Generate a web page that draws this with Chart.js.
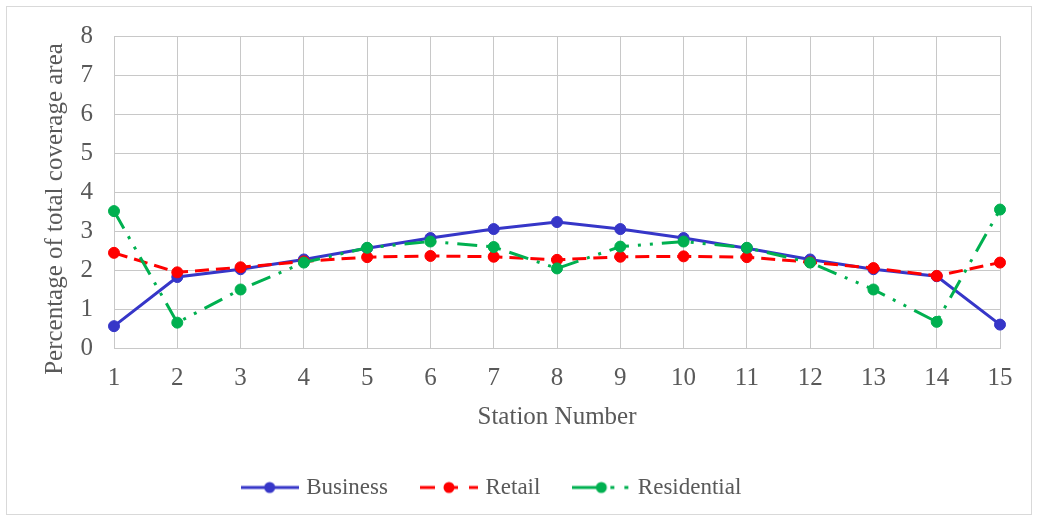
<!DOCTYPE html>
<html>
<head>
<meta charset="utf-8">
<script src="https://cdn.jsdelivr.net/npm/chart.js@4.4.1/dist/chart.umd.min.js"></script>
<style>
  body { margin: 0; background: #fff; }
  #wrap { position: absolute; left: 0; top: 0; width: 1038px; height: 522px; }
</style>
</head>
<body>
<div id="wrap"><canvas id="myChart"></canvas></div>
<script>
// data
const stations = ['1', '2', '3', '4', '5', '6', '7', '8', '9', '10', '11', '12', '13', '14', '15']
const business = [0.56, 1.82, 2.02, 2.27, 2.56, 2.82, 3.05, 3.23, 3.05, 2.82, 2.56, 2.27, 2.02, 1.84, 0.6]
const retail = [2.44, 1.94, 2.07, 2.22, 2.33, 2.36, 2.34, 2.26, 2.34, 2.35, 2.33, 2.2, 2.05, 1.85, 2.19]
const residential = [3.51, 0.65, 1.5, 2.19, 2.57, 2.73, 2.59, 2.04, 2.6, 2.73, 2.57, 2.19, 1.5, 0.67, 3.55]
const seriesNames = ['Business', 'Retail', 'Residential']
const yTitle = 'Percentage of total coverage area'
const xTitle = 'Station Number'

const BLUE = '#3636c8'
const RED = '#ff0000'
const GREEN = '#00b050'
const TEXT = '#595959'
const GRID = '#c8c8c8'
const FONT = '"Liberation Serif", "Times New Roman", serif'

Chart.defaults.font.family = FONT
Chart.defaults.color = TEXT

// small line+marker pictures for the legend
const legendIcon = (color, kind) => {
    const c = document.createElement('canvas')
    c.width = 58
    c.height = 14
    const g = c.getContext('2d')
    g.strokeStyle = color
    g.fillStyle = color
    g.lineWidth = 3
    const seg = (a, b) => { g.beginPath(); g.moveTo(a, 7); g.lineTo(b, 7); g.stroke() }
    if (kind === 'solid') {
        seg(0, 58)
    } else if (kind === 'dash') {
        seg(0, 15)
        seg(29, 38)
        seg(49, 58)
    } else {
        seg(0, 29)
        seg(38, 42)
        seg(52, 56)
    }
    g.beginPath()
    g.arc(29, 7, 5.5, 0, Math.PI * 2)
    g.fill()
    return c
}
const icons = [legendIcon(BLUE, 'solid'), legendIcon(RED, 'dash'), legendIcon(GREEN, 'dashdot')]

// outer frame + the y title (excel puts it a bit below the plot centre)
const frame = {
    id: 'frame',
    beforeDraw(chart) {
        const ctx = chart.ctx
        ctx.save()
        ctx.fillStyle = '#fff'
        ctx.fillRect(0, 0, chart.width, chart.height)
        ctx.strokeStyle = '#d9d9d9'
        ctx.lineWidth = 1
        ctx.strokeRect(6.5, 6.5, 1025, 508)
        ctx.translate(55, 209)
        ctx.rotate(-Math.PI / 2)
        ctx.font = '25px ' + FONT
        ctx.fillStyle = TEXT
        ctx.textAlign = 'center'
        ctx.textBaseline = 'middle'
        ctx.fillText(yTitle, 0, 0)
        ctx.restore()
    }
}

const line = (label, data, color, dash, order) => ({
    label: label,
    data: data,
    borderColor: color,
    backgroundColor: color,
    borderWidth: 3,
    borderDash: dash,
    pointRadius: 5.5,
    pointHoverRadius: 5.5,
    pointBorderWidth: 1,
    pointBackgroundColor: color,
    pointBorderColor: color,
    tension: 0,
    order: order
})

new Chart(document.getElementById('myChart'), {
    type: 'line',
    data: {
        labels: stations,
        datasets: [
            line(seriesNames[0], business, BLUE, [], 3),
            line(seriesNames[1], retail, RED, [14, 7], 2),
            line(seriesNames[2], residential, GREEN, [20, 9, 3, 9, 3, 9], 1)
        ]
    },
    plugins: [frame],
    options: {
        responsive: true,
        maintainAspectRatio: false,
        animation: false,
        layout: {
            padding: { left: -14, right: 38, top: 35, bottom: 13 }
        },
        scales: {
            x: {
                offset: false,
                grid: { color: GRID, drawTicks: false },
                border: { color: GRID },
                ticks: { font: { size: 25 }, padding: 15, maxRotation: 0 },
                title: {
                    display: true,
                    text: xTitle,
                    font: { size: 25 },
                    padding: { top: 4, bottom: 8 }
                },
                afterFit: (scale) => { scale.height = 92 }
            },
            y: {
                min: 0,
                max: 8,
                ticks: { stepSize: 1, font: { size: 25 }, padding: 21 },
                grid: { color: GRID, drawTicks: false },
                border: { display: false },
                afterFit: (scale) => { scale.width = 128 }
            }
        },
        plugins: {
            legend: {
                position: 'bottom',
                labels: {
                    usePointStyle: true,
                    pointStyleWidth: 50,
                    padding: 36,
                    font: { size: 23 },
                    color: TEXT,
                    generateLabels: (chart) => chart.data.datasets.map((ds, i) => ({
                        text: ds.label,
                        pointStyle: icons[i],
                        fillStyle: ds.borderColor,
                        strokeStyle: ds.borderColor,
                        lineWidth: 0,
                        fontColor: TEXT,
                        hidden: false,
                        datasetIndex: i
                    }))
                }
            },
            tooltip: { enabled: false }
        }
    }
})
</script>
</body>
</html>
